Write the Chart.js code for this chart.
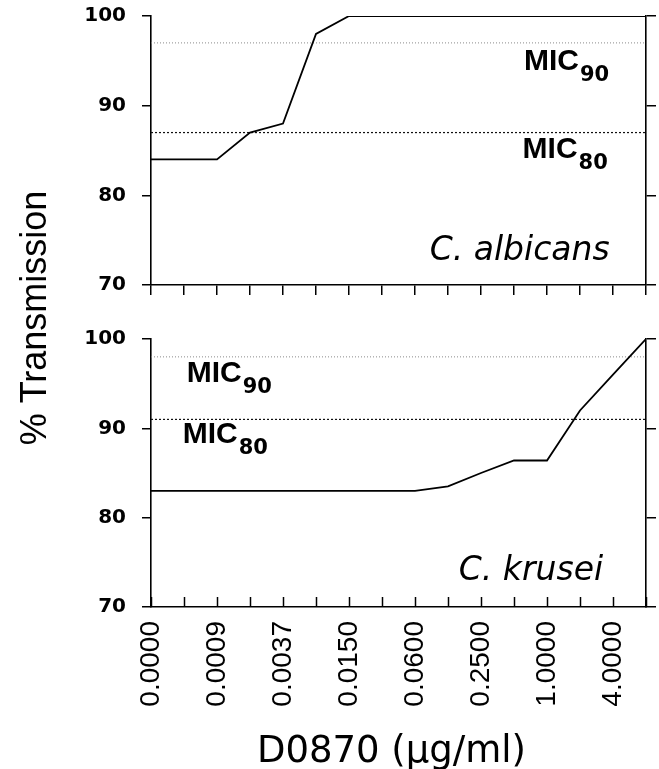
<!DOCTYPE html>
<html>
<head>
<meta charset="utf-8">
<script src="https://cdn.jsdelivr.net/npm/chart.js@4.4.1/dist/chart.umd.min.js"></script>
<style>
  body { margin: 0; background: #fff; }
  #wrap { position: relative; width: 659px; height: 769px; }
  canvas { position: absolute; left: 0; top: 0; }
</style>
</head>
<body>
<div id="wrap">
  <canvas id="albicansChart" width="659" height="300"></canvas>
  <canvas id="kruseiChart" width="659" height="769"></canvas>
</div>
<script>
// D0870 dilution series: 16 steps, only every other one is labelled
const doseLabels = ['0.0000', '0.0009', '0.0037', '0.0150', '0.0600', '0.2500', '1.0000', '4.0000'];

// % transmission per dilution step
const albicans = [84, 84, 84, 87, 88, 98, 100, 100, 100, 100, 100, 100, 100, 100, 100, 100];
const krusei = [83, 83, 83, 83, 83, 83, 83, 83, 83, 83.5, 85, 86.4, 86.4, 92, 96, 100];

// MIC90, MIC80 reference levels
const albicansMIC = [97, 87];
const kruseiMIC = [98, 91];

const yTicks = [70, 80, 90, 100];

const lastStep = albicans.length - 1;
const H = 769;

const toPoints = arr => arr.map((v, i) => ({ x: i, y: v }));
const flat = v => [{ x: 0, y: v }, { x: lastStep, y: v }];

function datasets(values, mic) {
  return [
    { data: toPoints(values), borderColor: '#000', borderWidth: 1.8, pointRadius: 0, tension: 0 },
    { data: flat(mic[0]), borderColor: '#8a8a8a', borderWidth: 1, borderDash: [1, 2], pointRadius: 0 },
    { data: flat(mic[1]), borderColor: '#111', borderWidth: 1.2, borderDash: [2, 2], pointRadius: 0 }
  ];
}

function yScales() {
  return {
    y: {
      min: yTicks[0], max: yTicks[yTicks.length - 1],
      ticks: { stepSize: 10, color: '#000', padding: 16, font: { family: 'DejaVu Sans', weight: 'bold', size: 20 } },
      grid: { drawOnChartArea: false, tickLength: 9, color: '#000', lineWidth: 1.5 },
      border: { color: '#000', width: 1.6 },
      afterFit: s => { s.width = 151; s.paddingTop = 0; s.paddingBottom = 0; }
    },
    yR: {
      position: 'right',
      min: yTicks[0], max: yTicks[yTicks.length - 1],
      ticks: { stepSize: 10, display: false },
      grid: { drawOnChartArea: false, tickLength: 10, color: '#000', lineWidth: 1.5 },
      border: { color: '#000', width: 1.6 },
      afterFit: s => { s.width = 13; s.paddingTop = 0; s.paddingBottom = 0; }
    }
  };
}

// MIC labels with subscripts and species name, anchored in data units
function panelText(items) {
  return {
    id: 'panelText',
    afterDraw(chart) {
      const { ctx } = chart;
      const x = chart.scales.x, y = chart.scales.y;
      ctx.save();
      ctx.fillStyle = '#000';
      ctx.textBaseline = 'alphabetic';
      items.forEach(it => {
        const px = x.getPixelForValue(it.at[0]);
        const py = y.getPixelForValue(it.at[1]);
        ctx.font = it.font;
        if (it.sub) {
          ctx.textAlign = 'left';
          ctx.fillText(it.text, px, py);
          const w = ctx.measureText(it.text).width;
          ctx.font = 'bold 21px "DejaVu Sans"';
          ctx.fillText(it.sub, px + w + 1, py + 11);
        } else {
          ctx.textAlign = it.align || 'left';
          ctx.fillText(it.text, px, py);
        }
      });
      ctx.restore();
    }
  };
}

const micFont = 'bold 30px "Liberation Sans"';
const speciesFont = 'italic 33px "DejaVu Sans"';

// top panel
new Chart(document.getElementById('albicansChart'), {
  type: 'line',
  data: { datasets: datasets(albicans, albicansMIC) },
  options: {
    responsive: false,
    animation: false,
    layout: { padding: { top: 16, left: 0, right: 0, bottom: 0 } },
    plugins: { legend: { display: false }, tooltip: { enabled: false } },
    scales: Object.assign({
      x: {
        type: 'linear', min: 0, max: lastStep,
        ticks: { stepSize: 1, display: false },
        grid: { drawOnChartArea: false, tickLength: 10, color: '#000', lineWidth: 1.5 },
        border: { color: '#000', width: 1.6 },
        afterFit: s => { s.height = 15; s.paddingLeft = 0; s.paddingRight = 0; }
      }
    }, yScales())
  },
  plugins: [panelText([
    { text: 'MIC', sub: '90', at: [11.3, 94.0], font: micFont },
    { text: 'MIC', sub: '80', at: [11.26, 84.2], font: micFont },
    { text: 'C. albicans', at: [13.9, 72.8], font: speciesFont, align: 'right' }
  ])]
});

// bottom panel: ticks point into the plot, carries the axis titles
const innerTicks = {
  id: 'innerTicks',
  afterDraw(chart) {
    const { ctx, chartArea } = chart;
    const x = chart.scales.x;
    ctx.save();
    ctx.strokeStyle = '#000';
    ctx.lineWidth = 1.5;
    x.ticks.forEach(t => {
      const px = Math.round(x.getPixelForValue(t.value)) + 0.5;
      ctx.beginPath();
      ctx.moveTo(px, chartArea.bottom);
      ctx.lineTo(px, chartArea.bottom - 10);
      ctx.stroke();
    });
    ctx.restore();
  }
};

const axisTitles = {
  id: 'axisTitles',
  afterDraw(chart) {
    const { ctx, chartArea } = chart;
    ctx.save();
    ctx.fillStyle = '#000';
    ctx.textBaseline = 'alphabetic';
    ctx.textAlign = 'center';
    ctx.font = '37px "DejaVu Sans"';
    ctx.fillText('D0870 (\u03bcg/ml)', (chartArea.left + chartArea.right) / 2 - 7, H - 7);
    ctx.translate(46, 318);
    ctx.rotate(-Math.PI / 2);
    ctx.font = '36px "Liberation Sans"';
    ctx.fillText('% Transmission', 0, 0);
    ctx.restore();
  }
};

new Chart(document.getElementById('kruseiChart'), {
  type: 'line',
  data: { datasets: datasets(krusei, kruseiMIC) },
  options: {
    responsive: false,
    animation: false,
    layout: { padding: { top: 339, left: 0, right: 0, bottom: 0 } },
    plugins: { legend: { display: false }, tooltip: { enabled: false } },
    scales: Object.assign({
      x: {
        type: 'linear', min: 0, max: lastStep,
        ticks: {
          stepSize: 1, autoSkip: false, maxRotation: 90, minRotation: 90, padding: 14,
          color: '#000', font: { family: 'Liberation Sans', size: 28 },
          callback: v => (Number.isInteger(v) && v % 2 === 0) ? doseLabels[v / 2] : ''
        },
        grid: { drawOnChartArea: false, drawTicks: false, color: '#000' },
        border: { color: '#000', width: 1.6 },
        afterFit: s => { s.height = H - 607; s.paddingLeft = 0; s.paddingRight = 0; }
      }
    }, yScales())
  },
  plugins: [innerTicks, axisTitles, panelText([
    { text: 'MIC', sub: '90', at: [1.08, 95.24], font: micFont },
    { text: 'MIC', sub: '80', at: [0.96, 88.33], font: micFont },
    { text: 'C. krusei', at: [13.7, 73.0], font: speciesFont, align: 'right' }
  ])]
});
</script>
</body>
</html>
